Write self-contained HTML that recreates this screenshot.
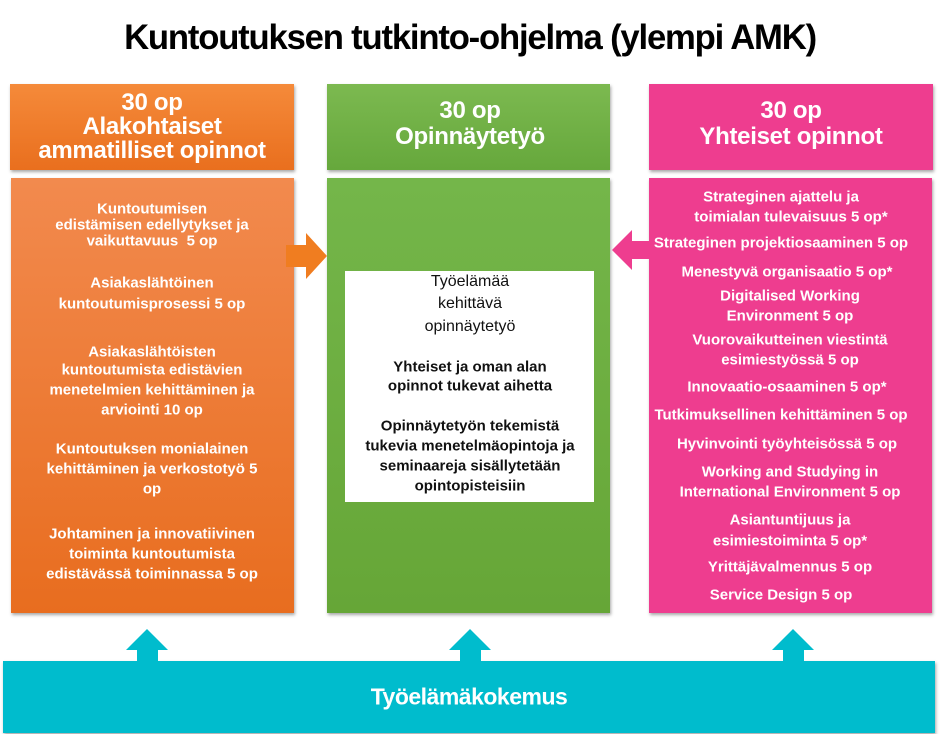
<!DOCTYPE html>
<html><head><meta charset="utf-8"><style>
body{margin:0;width:940px;height:734px;background:#fff;position:relative;overflow:hidden;font-family:"Liberation Sans",Arial,sans-serif}
.b{position:absolute;box-shadow:1px 2px 3px rgba(0,0,0,.35)}
.t{position:absolute;width:400px;text-align:center;transform:translateY(-50%);white-space:nowrap;color:#fff;font-weight:bold;font-size:15px;line-height:1}
.h{font-size:24px;letter-spacing:-0.3px}
.k{color:#111}
.n{font-weight:normal;font-size:16px}
</style></head><body>
<div style="position:absolute;left:0;top:20px;width:940px;text-align:center;color:#000;font-weight:bold;font-size:35px;line-height:1;letter-spacing:-1.2px;white-space:nowrap;transform:scaleX(0.99)">Kuntoutuksen tutkinto-ohjelma (ylempi AMK)</div>

<div class="b" style="left:10px;top:84px;width:284px;height:86px;background:linear-gradient(#f58a3a,#e96f1e)"></div>
<div class="b" style="left:11px;top:178px;width:283px;height:435px;background:linear-gradient(#f28a4e,#e86d1f)"></div>
<div class="b" style="left:327px;top:84px;width:283px;height:86px;background:linear-gradient(#7cb950,#66a83c)"></div>
<div class="b" style="left:327px;top:178px;width:283px;height:435px;background:linear-gradient(#74b64a,#66a637)"></div>
<div class="b" style="left:649px;top:84px;width:284px;height:86px;background:#ee3d8f"></div>
<div class="b" style="left:649px;top:178px;width:283px;height:435px;background:#ee3d8f"></div>
<div style="position:absolute;left:345px;top:271px;width:249px;height:231px;background:#fff"></div>
<div class="b" style="left:3px;top:661px;width:932px;height:72px;background:#00bccd"></div>

<svg width="940" height="734" style="position:absolute;left:0;top:0">
<polygon points="286,245 306,245 306,233 327,256 306,279 306,267 286,267" fill="#f07d20"/>
<polygon points="650,241 632,241 632,230 612,250 632,270 632,259 650,259" fill="#ee3d8f"/>
<g fill="#00bccd">
<polygon points="126,650 147,629 168,650 158,650 158,662 137,662 137,650"/>
<polygon points="449,650 470,629 491,650 481,650 481,662 460,662 460,650"/>
<polygon points="772,650 793,629 814,650 804,650 804,662 783,662 783,650"/>
</g></svg>

<div class="t h" style="left:-48px;top:103px">30 op</div>
<div class="t h" style="left:-48px;top:127px">Alakohtaiset</div>
<div class="t h" style="left:-48px;top:151px">ammatilliset opinnot</div>
<div class="t h" style="left:270px;top:111px">30 op</div>
<div class="t h" style="left:270px;top:137px">Opinnäytetyö</div>
<div class="t h" style="left:591px;top:111px">30 op</div>
<div class="t h" style="left:591px;top:137px">Yhteiset opinnot</div>

<div class="t" style="left:-48px;top:209px">Kuntoutumisen</div>
<div class="t" style="left:-48px;top:225px">edistämisen edellytykset ja</div>
<div class="t" style="left:-48px;top:241px">vaikuttavuus&nbsp; 5 op</div>
<div class="t" style="left:-48px;top:283px">Asiakaslähtöinen</div>
<div class="t" style="left:-48px;top:304px">kuntoutumisprosessi 5 op</div>
<div class="t" style="left:-48px;top:352px">Asiakaslähtöisten</div>
<div class="t" style="left:-48px;top:370px">kuntoutumista edistävien</div>
<div class="t" style="left:-48px;top:390px">menetelmien kehittäminen ja</div>
<div class="t" style="left:-48px;top:410px">arviointi 10 op</div>
<div class="t" style="left:-48px;top:449px">Kuntoutuksen monialainen</div>
<div class="t" style="left:-48px;top:469px">kehittäminen ja verkostotyö 5</div>
<div class="t" style="left:-48px;top:489px">op</div>
<div class="t" style="left:-48px;top:534px">Johtaminen ja innovatiivinen</div>
<div class="t" style="left:-48px;top:554px">toiminta kuntoutumista</div>
<div class="t" style="left:-48px;top:574px">edistävässä toiminnassa 5 op</div>

<div class="t k n" style="left:270px;top:282px">Työelämää</div>
<div class="t k n" style="left:270px;top:304px">kehittävä</div>
<div class="t k n" style="left:270px;top:327px">opinnäytetyö</div>
<div class="t k" style="left:270px;top:367px">Yhteiset ja oman alan</div>
<div class="t k" style="left:270px;top:386px">opinnot tukevat aihetta</div>
<div class="t k" style="left:270px;top:426px">Opinnäytetyön tekemistä</div>
<div class="t k" style="left:270px;top:446px">tukevia menetelmäopintoja ja</div>
<div class="t k" style="left:270px;top:466px">seminaareja sisällytetään</div>
<div class="t k" style="left:270px;top:486px">opintopisteisiin</div>

<div class="t" style="left:581px;top:197px">Strateginen ajattelu ja</div>
<div class="t" style="left:591px;top:217px">toimialan tulevaisuus 5 op*</div>
<div class="t" style="left:581px;top:243px">Strateginen projektiosaaminen 5 op</div>
<div class="t" style="left:587px;top:272px">Menestyvä organisaatio 5 op*</div>
<div class="t" style="left:590px;top:296px">Digitalised Working</div>
<div class="t" style="left:590px;top:316px">Environment 5 op</div>
<div class="t" style="left:590px;top:340px">Vuorovaikutteinen viestintä</div>
<div class="t" style="left:590px;top:360px">esimiestyössä 5 op</div>
<div class="t" style="left:587px;top:387px">Innovaatio-osaaminen 5 op*</div>
<div class="t" style="left:581px;top:415px">Tutkimuksellinen kehittäminen 5 op</div>
<div class="t" style="left:587px;top:444px">Hyvinvointi työyhteisössä 5 op</div>
<div class="t" style="left:590px;top:472px">Working and Studying in</div>
<div class="t" style="left:590px;top:492px">International Environment 5 op</div>
<div class="t" style="left:590px;top:520px">Asiantuntijuus ja</div>
<div class="t" style="left:590px;top:541px">esimiestoiminta 5 op*</div>
<div class="t" style="left:590px;top:567px">Yrittäjävalmennus 5 op</div>
<div class="t" style="left:581px;top:595px">Service Design 5 op</div>

<div class="t" style="left:269px;top:697px;font-size:23px;letter-spacing:-0.5px">Työelämäkokemus</div>
</body></html>
